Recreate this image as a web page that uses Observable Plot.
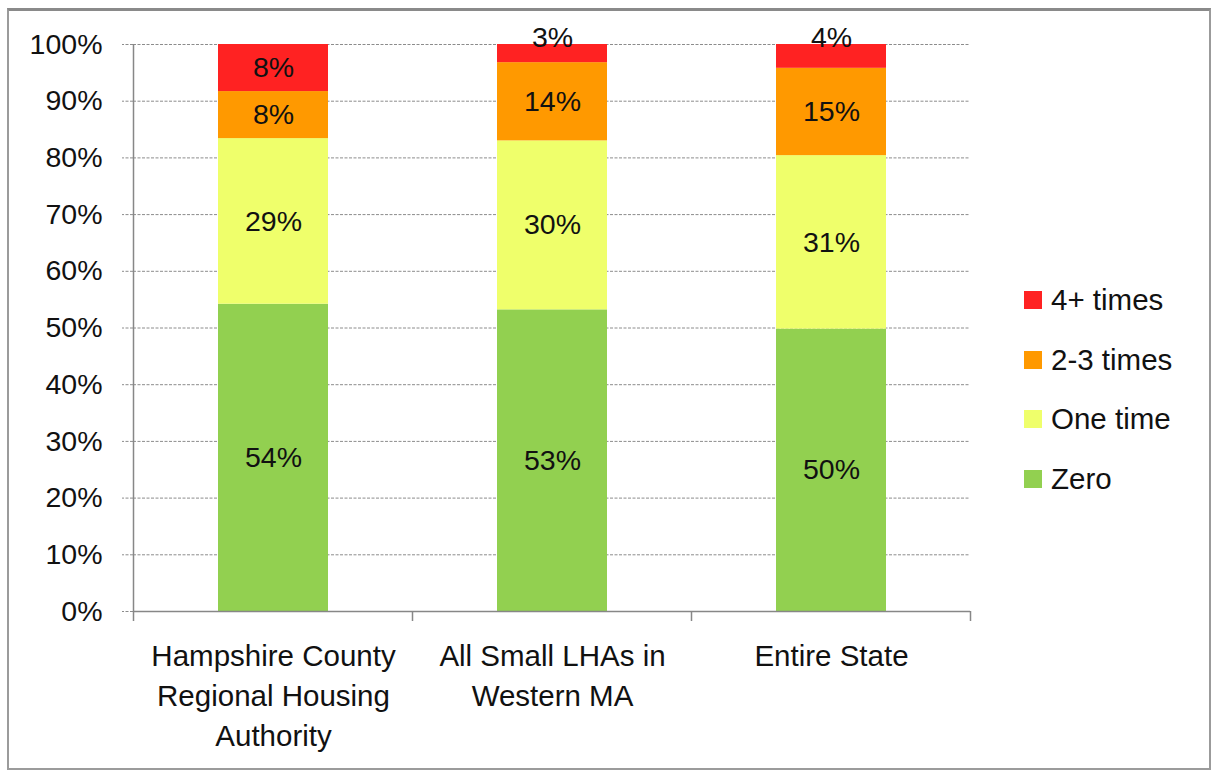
<!DOCTYPE html>
<html><head><meta charset="utf-8">
<script src="https://cdn.jsdelivr.net/npm/d3@7"></script>
<script src="https://cdn.jsdelivr.net/npm/@observablehq/plot@0.6"></script>
<style>
html,body{margin:0;padding:0;background:#fff;}
#wrap{position:relative;width:1214px;height:772px;overflow:hidden;font-family:"Liberation Sans",Arial,sans-serif;color:#111;}
#border{position:absolute;left:7px;top:8px;width:1204px;height:762px;box-sizing:border-box;border:2px solid #9b9b9b;border-top:3px solid #8a8a8a;}
#chart{position:absolute;left:0;top:0;}
#legend{position:absolute;left:1024px;top:270px;}
.row{height:59.7px;display:flex;align-items:center;font-size:29.5px;color:#111;}
.sw{width:18px;height:18px;margin-right:9px;flex:none;}
</style></head>
<body><div id="wrap"><div id="border"></div><div id="chart"></div><div id="legend"></div></div>
<script>
const categories = ["Hampshire County\nRegional Housing\nAuthority", "All Small LHAs in\nWestern MA", "Entire State"];
const series = ["Zero", "One time", "2-3 times", "4+ times"];
const colors = ["#92D050", "#EFFF6B", "#FF9900", "#FF2222"];
const zeroValues = [54.2, 53.2, 49.8];
const oneTimeValues = [29.2, 29.8, 30.6];
const twoThreeValues = [8.3, 13.8, 15.4];
const fourPlusValues = [8.3, 3.2, 4.2];
const yTicks = [0, 10, 20, 30, 40, 50, 60, 70, 80, 90, 100];

const seriesValues = [zeroValues, oneTimeValues, twoThreeValues, fourPlusValues];
const data = categories.flatMap((c, i) => series.map((s, j) => ({category: c, series: s, value: seriesValues[j][i]})));

function categoryFrame(index, scales, values, dims) {
  const x = scales.x;
  const step = x.step(), bw = x.bandwidth();
  const bottom = dims.height - dims.marginBottom;
  const bounds = [x(categories[0]) - (step - bw) / 2, ...categories.map(c => x(c) + bw + (step - bw) / 2)];
  const g = d3.create("svg:g").attr("stroke", "#878787").attr("stroke-width", 1.5);
  g.append("line").attr("x1", bounds[0]).attr("x2", bounds[0]).attr("y1", dims.marginTop).attr("y2", bottom);
  for (const b of bounds) g.append("line").attr("x1", b).attr("x2", b).attr("y1", bottom).attr("y2", bottom + 10);
  return g.node();
}

const plot = Plot.plot({
  width: 1214, height: 772,
  marginLeft: 133, marginRight: 244, marginTop: 44, marginBottom: 161,
  style: {fontFamily: '"Liberation Sans", Arial, sans-serif', fontSize: "28px", color: "#111", background: "transparent", overflow: "visible"},
  x: {domain: categories, paddingInner: 0.606, paddingOuter: 0.303, axis: null},
  y: {domain: [0, 100]},
  color: {domain: series, range: colors},
  marks: [
    Plot.gridY(yTicks.filter(t => t > 0), {stroke: "#8c8c8c", strokeOpacity: 1, strokeDasharray: "3,1.5"}),
    Plot.axisY(yTicks, {tickSize: 11, tickPadding: 20, tickFormat: d => d + "%", stroke: "#8c8c8c", strokeDasharray: "3,1.5", fill: "#111", label: null, fontSize: 28.5}),
    Plot.barY(data, {x: "category", y: "value", fill: "series"}),
    Plot.ruleY([0], {stroke: "#878787", strokeWidth: 1.5}),
    categoryFrame,
    Plot.text(data, Plot.stackY({x: "category", y: "value", z: "series", text: d => d.value >= 5 ? Math.round(d.value) + "%" : null, fill: "#111", fontSize: 28.5})),
    Plot.text(data, Plot.stackY2({x: "category", y: "value", z: "series", text: d => d.value < 5 ? Math.round(d.value) + "%" : null, fill: "#111", fontSize: 28.5, lineAnchor: "bottom", dy: 2})),
    Plot.text(categories, {x: d => d, text: d => d, frameAnchor: "bottom", lineAnchor: "top", lineHeight: 1.36, dy: 26, fill: "#111", fontSize: 29.5})
  ]
});
document.getElementById("chart").appendChild(plot);

const legend = document.getElementById("legend");
for (let j = series.length - 1; j >= 0; j--) {
  const row = document.createElement("div");
  row.className = "row";
  const sw = document.createElement("div");
  sw.className = "sw";
  sw.style.background = colors[j];
  const label = document.createElement("span");
  label.textContent = series[j];
  row.appendChild(sw); row.appendChild(label);
  legend.appendChild(row);
}
</script>
</body></html>
